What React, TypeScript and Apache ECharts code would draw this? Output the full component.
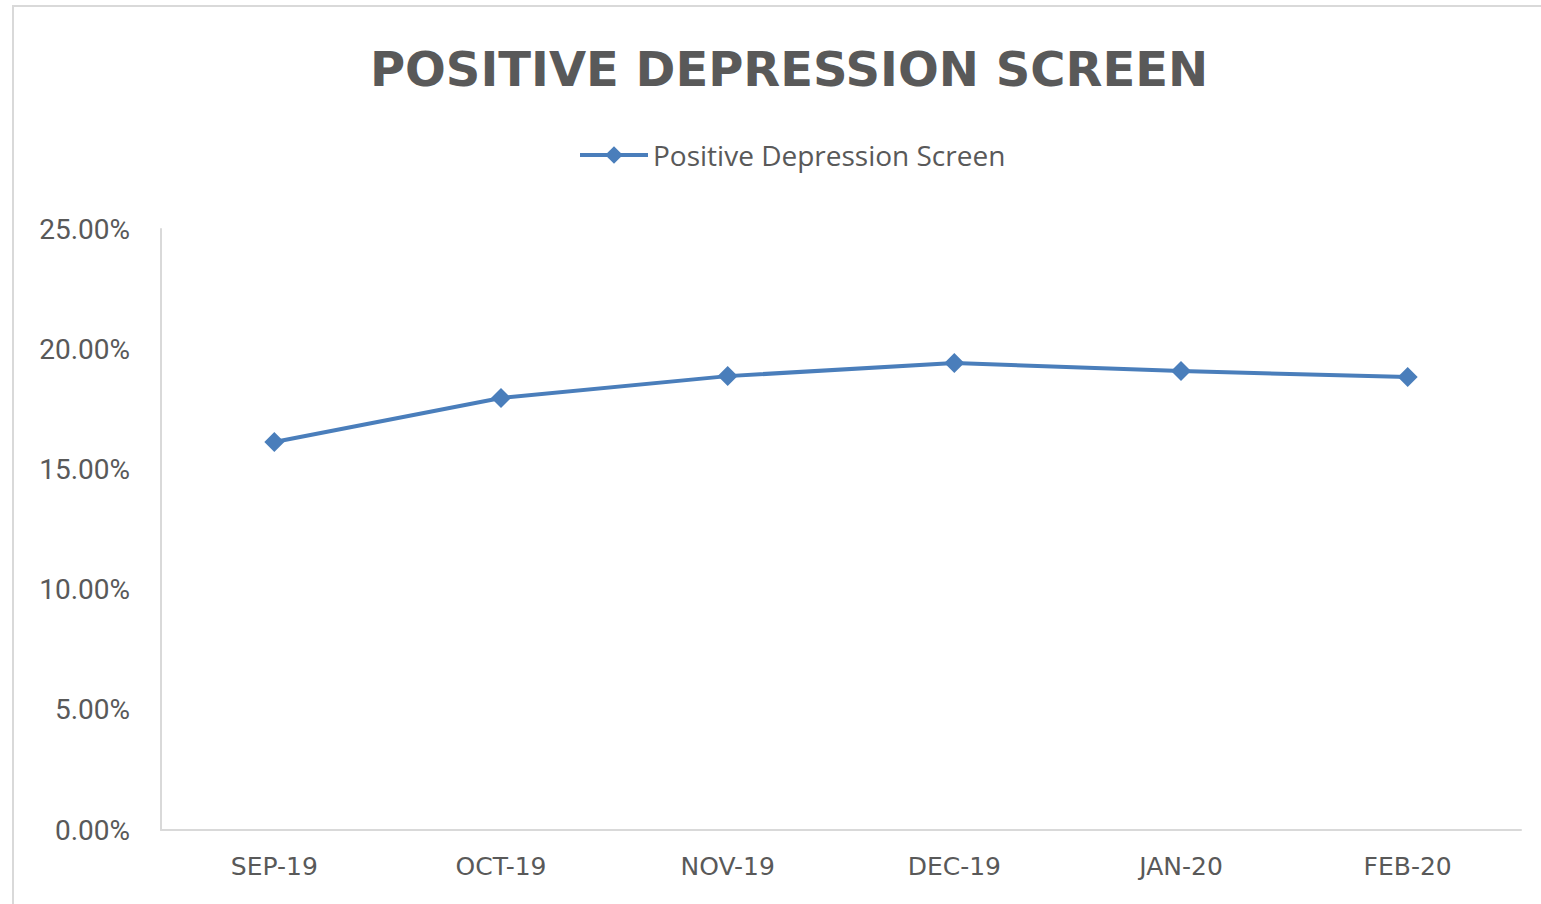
import React, { useEffect, useRef } from "react";
import * as echarts from "echarts";

const titleText = "POSITIVE DEPRESSION SCREEN";
const seriesName = "Positive Depression Screen";
const categories = ["SEP-19", "OCT-19", "NOV-19", "DEC-19", "JAN-20", "FEB-20"];
const values = [0.1614, 0.1797, 0.1888, 0.1943, 0.1909, 0.1884];
const yTicks = { min: 0, max: 0.25, interval: 0.05 };

export default function App() {
  const ref = useRef<HTMLDivElement>(null);
  useEffect(() => {
    if (!ref.current) return;
    const chart = echarts.init(ref.current, undefined, { renderer: "svg" });
    const blue = "#4a7ebb";
    const gray = "#595959";
    chart.setOption({
      animation: false,
      backgroundColor: "#ffffff",
      title: {
        text: titleText,
        left: 784,
        top: 40,
        textAlign: "center",
        textStyle: {
          fontFamily: "DejaVu Sans",
          fontWeight: "bold",
          fontSize: 48,
          color: gray,
        },
      },
      legend: {
        left: 573,
        top: 136,
        itemWidth: 68,
        itemHeight: 22,
        itemGap: 10,
        lineStyle: { width: 4 },
        textStyle: { fontFamily: "Open Sans", fontSize: 28, color: gray, padding: [0, 0, 0, 0] },
        data: [{ name: seriesName }],
      },
      graphic: [
        {
          type: "rect",
          shape: { x: 13, y: 6, width: 1560, height: 940 },
          style: { fill: "none", stroke: "#d9d9d9", lineWidth: 2 },
          silent: true,
          z: -1,
        },
      ],
      grid: { left: 161, right: 20, top: 229, bottom: 74, containLabel: false },
      xAxis: {
        type: "category",
        data: categories,
        boundaryGap: true,
        axisLine: { show: true, lineStyle: { color: "#d9d9d9", width: 2 } },
        axisTick: { show: false },
        axisLabel: {
          margin: 24,
          fontFamily: "DejaVu Sans",
          fontSize: 25,
          color: gray,
        },
        splitLine: { show: false },
      },
      yAxis: {
        type: "value",
        min: yTicks.min,
        max: yTicks.max,
        interval: yTicks.interval,
        axisLine: { show: true, lineStyle: { color: "#d9d9d9", width: 2 } },
        axisTick: { show: false },
        splitLine: { show: false },
        axisLabel: {
          margin: 31,
          fontFamily: "Roboto",
          fontSize: 28,
          color: gray,
          formatter: (v: number) => (v * 100).toFixed(2) + "%",
        },
      },
      series: [
        {
          name: seriesName,
          type: "line",
          data: values,
          symbol: "diamond",
          symbolSize: 20,
          showSymbol: true,
          lineStyle: { color: blue, width: 4 },
          itemStyle: { color: blue },
        },
      ],
    });
    return () => chart.dispose();
  }, []);
  return (
    <div
      ref={ref}
      style={{ position: "fixed", left: 0, top: 0, width: 1541, height: 904 }}
    />
  );
}
